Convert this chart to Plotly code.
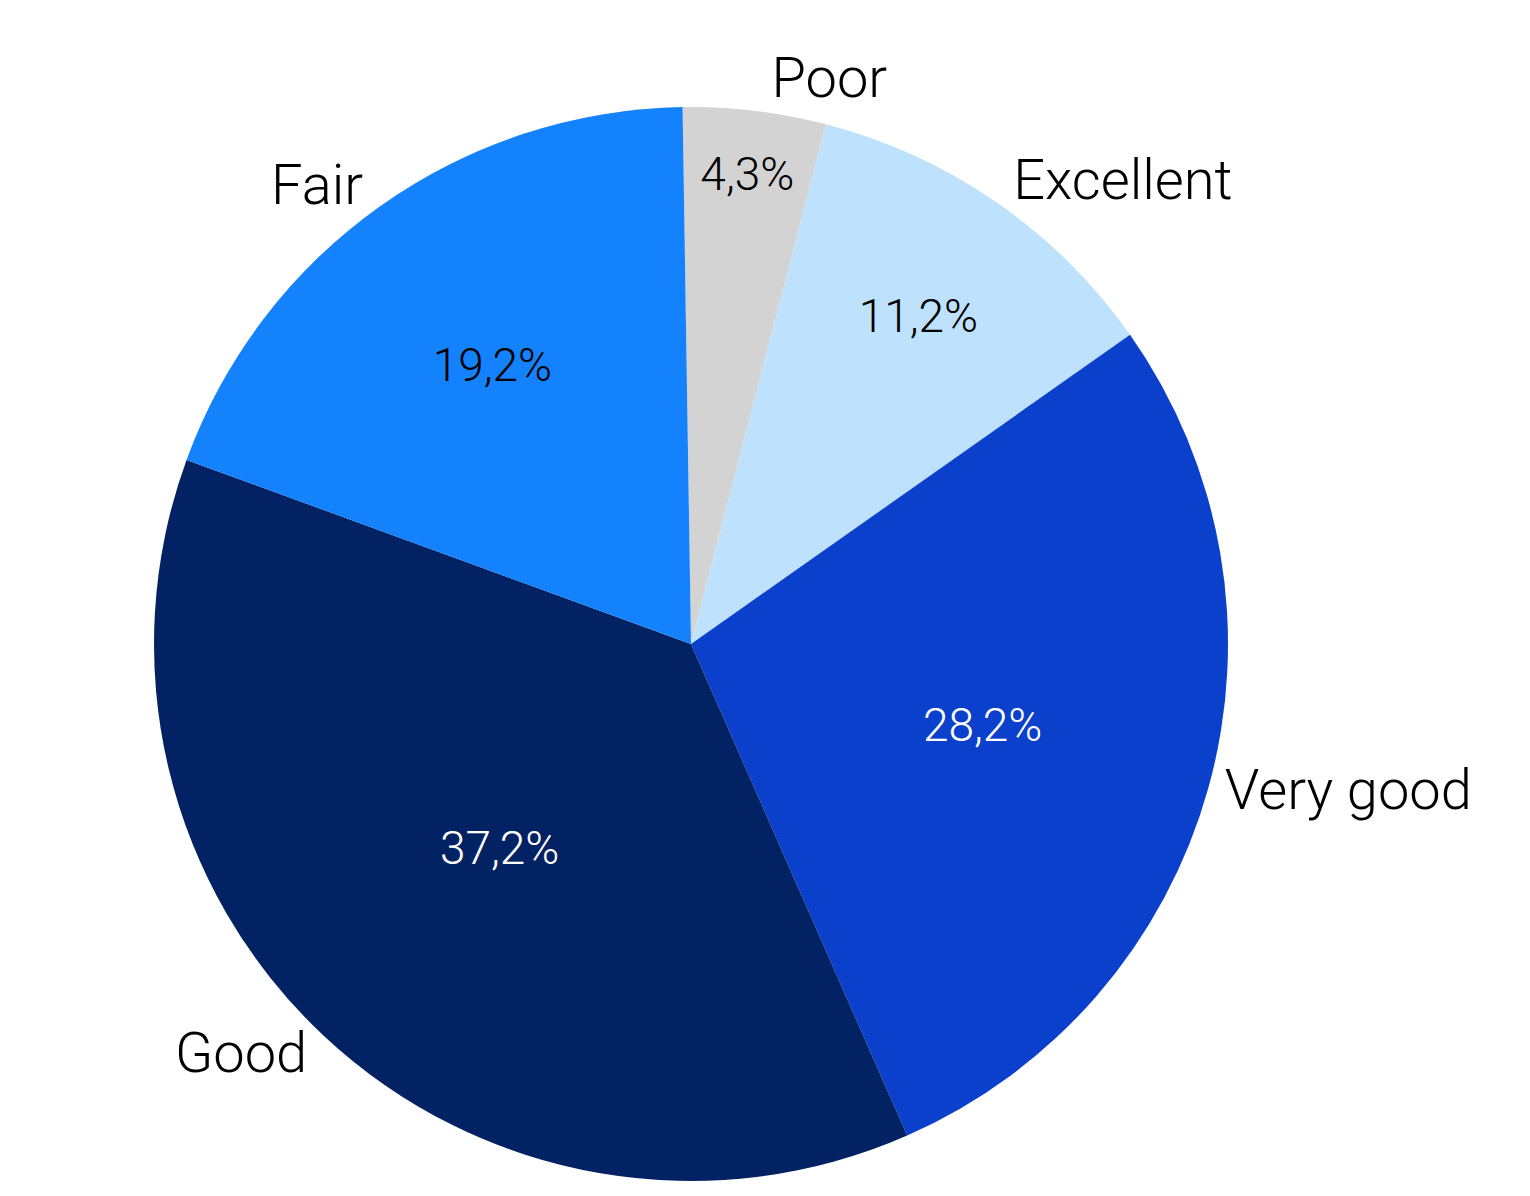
import plotly.graph_objects as go

# Share of ratings
categories = ["Poor", "Excellent", "Very good", "Good", "Fair"]
shares = [4.3, 11.2, 28.2, 37.2, 19.2]
colors = ["#d3d3d3", "#bee2fd", "#0b40cc", "#022263", "#1482fc"]
pct_colors = ["black", "black", "white", "white", "black"]

fig = go.Figure()

# slices with the percentages inside
fig.add_trace(go.Pie(
    labels=categories,
    values=shares,
    sort=False,
    direction="clockwise",
    rotation=-0.9,
    marker=dict(colors=colors, line=dict(width=0)),
    texttemplate="%{value:.1f}%",
    textposition="inside",
    insidetextorientation="horizontal",
    insidetextfont=dict(family="Roboto", size=46, color=pct_colors, weight=300),
    showlegend=False,
    hoverinfo="skip",
))

# same pie again, transparent, only for the category names outside
fig.add_trace(go.Pie(
    labels=categories,
    values=shares,
    sort=False,
    direction="clockwise",
    rotation=-0.9,
    marker=dict(colors=["rgba(0,0,0,0)"] * len(categories), line=dict(width=0)),
    texttemplate="%{label}",
    textposition="outside",
    outsidetextfont=dict(family="Roboto", size=56, color="black", weight=300),
    showlegend=False,
    hoverinfo="skip",
    automargin=False,
))

fig.update_layout(
    width=1530,
    height=1196,
    separators=", ",
    paper_bgcolor="white",
    margin=dict(l=0, r=164, t=99, b=23),
)

fig.write_html("out.html")
